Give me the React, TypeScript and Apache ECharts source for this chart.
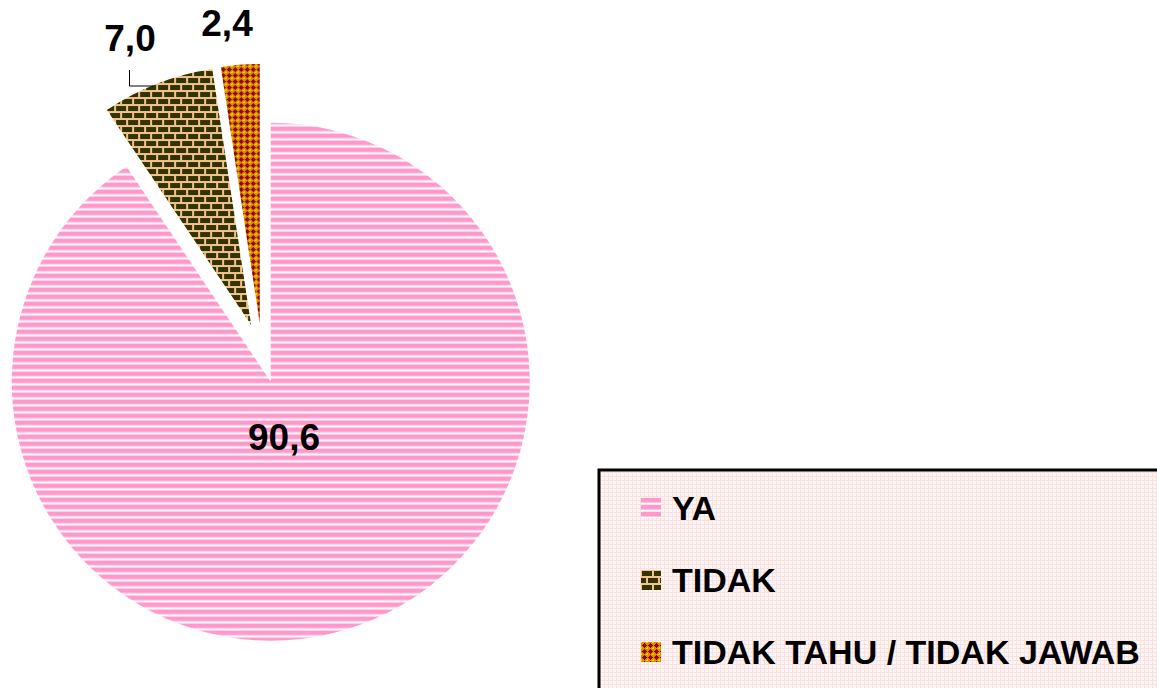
import React, { useEffect, useRef } from "react";
import * as echarts from "echarts";

const categories = ["YA", "TIDAK", "TIDAK TAHU / TIDAK JAWAB"];
const values = [90.6, 7.0, 2.4];

function makeCanvas(w: number, h: number, draw: (c: CanvasRenderingContext2D) => void) {
  const cv = document.createElement("canvas");
  cv.width = w;
  cv.height = h;
  const ctx = cv.getContext("2d")!;
  draw(ctx);
  return cv;
}

function stripePattern() {
  const cv = makeCanvas(8, 7, (c) => {
    c.fillStyle = "#ffffff";
    c.fillRect(0, 0, 8, 7);
    c.fillStyle = "#ff99cc";
    c.fillRect(0, 0, 8, 4);
    c.fillStyle = "#ffc4e2";
    c.fillRect(0, 4, 8, 1);
    c.fillStyle = "#ffe4f2";
    c.fillRect(0, 6, 8, 1);
  });
  return { image: cv, repeat: "repeat", imageWidth: 8, imageHeight: 7 };
}

function brickPattern() {
  const cv = makeCanvas(12, 14, (c) => {
    c.fillStyle = "#f2c28c";
    c.fillRect(0, 0, 12, 14);
    c.fillStyle = "#333300";
    c.fillRect(1, 1, 10, 5);
    c.fillRect(-5, 8, 10, 5);
    c.fillRect(7, 8, 10, 5);
  });
  return { image: cv, repeat: "repeat", imageWidth: 12, imageHeight: 14 };
}

function crossPattern() {
  const cv = makeCanvas(6, 6, (c) => {
    c.fillStyle = "#d49000";
    c.fillRect(0, 0, 6, 6);
    c.fillStyle = "#ffd400";
    c.fillRect(0, 0, 1, 1);
    c.fillRect(5, 0, 1, 1);
    c.fillRect(0, 5, 1, 1);
    c.fillStyle = "#990000";
    c.fillRect(3, 1, 1, 5);
    c.fillRect(1, 3, 5, 1);
    c.fillRect(2, 2, 3, 3);
  });
  return { image: cv, repeat: "repeat", imageWidth: 6, imageHeight: 6 };
}

function gridPattern() {
  const cv = makeCanvas(4, 4, (c) => {
    c.fillStyle = "#fff5f5";
    c.fillRect(0, 0, 4, 4);
    c.fillStyle = "#f7e2e2";
    c.fillRect(0, 0, 4, 1);
    c.fillRect(0, 0, 1, 4);
  });
  return { image: cv, repeat: "repeat", imageWidth: 4, imageHeight: 4 };
}

const fmt = (v: number) => v.toFixed(1).replace(".", ",");

// label anchor positions (centres) for each slice label
const labelPos = [
  [284, 437],
  [130, 38],
  [227, 23],
];

export default function App() {
  const ref = useRef<HTMLDivElement>(null);
  useEffect(() => {
    if (!ref.current) return;
    const chart = echarts.init(ref.current, null, { renderer: "svg" });
    const fills = [stripePattern(), brickPattern(), crossPattern()];
    const font = "'Liberation Sans', Arial, sans-serif";
    const labelTexts = values.map((v, i) => ({
      type: "text",
      z: 20,
      x: labelPos[i][0],
      y: labelPos[i][1],
      style: {
        text: fmt(v),
        fontFamily: font,
        fontWeight: "bold",
        fontSize: 37,
        fill: "#000",
        align: "center",
        verticalAlign: "middle",
      },
    }));
    chart.setOption({
      animation: false,
      graphic: {
        elements: [
          {
            type: "rect",
            z: 0,
            shape: { x: 599, y: 470, width: 700, height: 400 },
            style: { fill: gridPattern() as any, stroke: "#000", lineWidth: 3 },
          },
          {
            type: "polyline",
            z: 20,
            shape: {
              points: [
                [153, 86],
                [129.5, 86],
                [129.5, 70],
              ],
            },
            style: { stroke: "#000", lineWidth: 1, fill: "none" },
          },
          ...labelTexts,
        ],
      },
      legend: {
        z: 10,
        orient: "vertical",
        left: 641,
        top: 491,
        padding: 0,
        itemWidth: 20,
        itemHeight: 20,
        itemGap: 38,
        icon: "rect",
        selectedMode: false,
        data: categories,
        textStyle: {
          fontFamily: font,
          fontWeight: "bold",
          fontSize: 34,
          lineHeight: 34,
          color: "#000",
          padding: [0, 0, 0, 6],
        },
      },
      series: [
        {
          type: "pie",
          center: [262, 353],
          radius: [0, 259],
          startAngle: 90,
          clockwise: true,
          selectedMode: "multiple",
          selectedOffset: 30,
          avoidLabelOverlap: false,
          emphasis: { disabled: true, scale: false },
          select: { itemStyle: { borderWidth: 0 } },
          itemStyle: { borderWidth: 0 },
          label: { show: false },
          labelLine: { show: false },
          data: categories.map((name, i) => ({
            name,
            value: values[i],
            selected: true,
            itemStyle: { color: fills[i] as any },
          })),
        },
      ],
    });
    return () => chart.dispose();
  }, []);
  return (
    <div
      ref={ref}
      style={{ position: "fixed", left: 0, top: 0, width: 1157, height: 688, background: "#fff" }}
    />
  );
}
